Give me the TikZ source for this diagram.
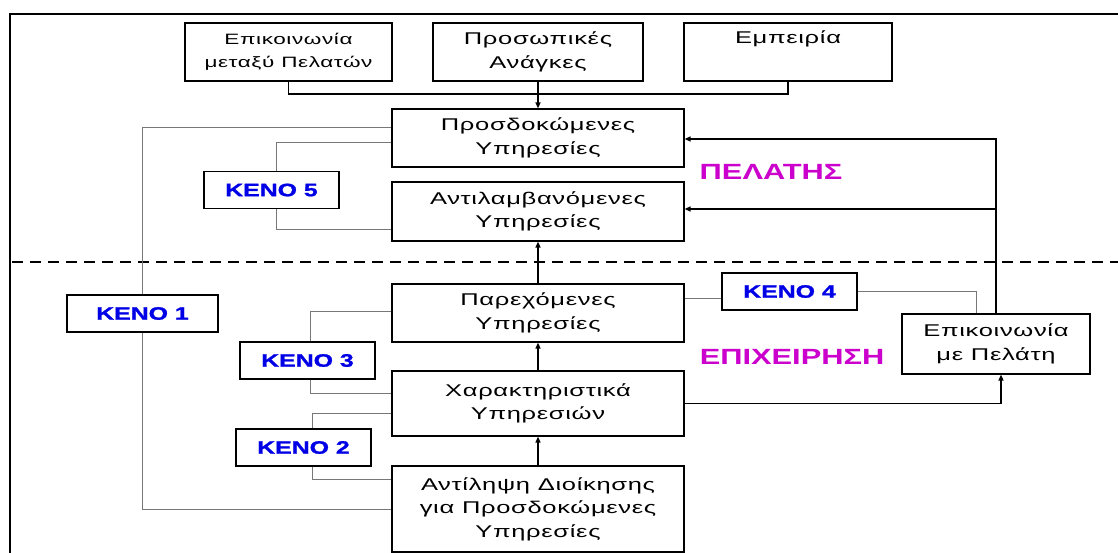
\documentclass[tikz,border=0pt]{standalone}
\usepackage{fontspec}
\setmainfont{Liberation Sans}[FakeStretch=1.5,LetterSpace=4]
\newfontfamily\headfont{Liberation Sans}[FakeStretch=1.4]
\newfontfamily\kfont{Liberation Sans}[FakeStretch=1.38,BoldFeatures={FakeBold=1.2}]
\usetikzlibrary{arrows.meta,calc}
\definecolor{kblue}{RGB}{0,0,230}
\definecolor{headmag}{RGB}{204,0,204}
\definecolor{linegray}{RGB}{120,120,120}
\begin{document}
\begin{tikzpicture}[x=1pt,y=-1pt,
  box/.style={draw=black,line width=1.2pt,minimum height=58pt,align=center,inner sep=0pt,font=\fontsize{17}{23.5}\selectfont},
  kbox/.style={draw=black,line width=1.2pt,minimum width=135pt,minimum height=37pt,inner sep=0pt,text=kblue,font=\kfont\fontsize{18}{20}\selectfont\bfseries},
  head/.style={text=headmag,font=\headfont\fontsize{22}{24}\selectfont\bfseries},
  gline/.style={draw=linegray,line width=1pt},
  bline/.style={draw=black,line width=1.3pt},
  arr/.style={bline,-{Triangle[length=6pt,width=5pt]}},
]
\useasboundingbox (0,0) rectangle (1118,553);
\fill[white] (0,0) rectangle (1118,553);
% frame and divider
\draw[line width=2.5pt] (10,560) -- (10,14) -- (1125,14);
\draw[line width=1.5pt,dash pattern=on 11pt off 7pt] (12,262) -- (1118,262);
% boxes
\node[box,minimum width=207pt,font=\fontsize{15}{23}\selectfont] (A) at (288.5,52) {Επικοινωνία\\μεταξύ Πελατών};
\node[box,minimum width=210pt] (B) at (538,52) {Προσωπικές\\Ανάγκες};
\node[box,minimum width=208pt] (C) at (788,52) {Εμπειρία\\\strut};
\node[box,minimum width=292pt] (PY) at (538,138) {Προσδοκώμενες\\Υπηρεσίες};
\node[box,minimum width=292pt,minimum height=59pt] (AY) at (538,211.5) {Αντιλαμβανόμενες\\Υπηρεσίες};
\node[box,minimum width=292pt] (PaY) at (538,313) {Παρεχόμενες\\Υπηρεσίες};
\node[box,minimum width=292pt,minimum height=65pt] (XY) at (538,403.5) {Χαρακτηριστικά\\Υπηρεσιών};
\node[box,minimum width=292pt,minimum height=86pt] (AD) at (538,509) {Αντίληψη Διοίκησης\\για Προσδοκώμενες\\Υπηρεσίες};
\node[box,minimum width=188pt,minimum height=60pt] (EP) at (996,344) {Επικοινωνία\\με Πελάτη};
% gap boxes
\node[kbox] (K5) at (271.5,190) {ΚΕΝΟ 5};
\node[kbox,minimum width=151pt] (K1) at (142.5,313.5) {ΚΕΝΟ 1};
\node[kbox] (K3) at (307.5,360.5) {ΚΕΝΟ 3};
\node[kbox] (K2) at (303.5,447.5) {ΚΕΝΟ 2};
\node[kbox] (K4) at (789.5,291.5) {ΚΕΝΟ 4};
% headings
\node[head] (pel) at (771,172) {ΠΕΛΑΤΗΣ};
\node[head] (epi) at (792,357) {ΕΠΙΧΕΙΡΗΣΗ};
% black connectors
\coordinate (jt) at (538,94);
\draw[bline] (A.south) |- (jt) -| (C.south);
\draw[arr] (B.south) -- (PY.north);
\draw[arr] (EP.north) |- ($(PY.east)+(0,1)$);
\draw[arr] ($(EP.north |- AY.east)+(0,-2.5)$) -- ($(AY.east)+(0,-2.5)$);
\draw[arr] (XY.east) -| ($(EP.south)+(5,0)$);
\draw[arr] (PaY.north) -- (AY.south);
\draw[arr] (XY.north) -- (PaY.south);
\draw[arr] (AD.north) -- (XY.south);
% grey gap connectors
\draw[gline] ($(PY.west)+(0,-10)$) -| (K1.north);
\draw[gline] (K1.south) |- (AD.west);
\draw[gline] ($(PY.west)+(0,5)$) -| ($(K5.north)+(4.5,0)$);
\draw[gline] ($(K5.south)+(4.5,0)$) |- ($(AY.west)+(0,18.5)$);
\draw[gline] ($(PaY.west)+(0,-2)$) -| ($(K3.north)+(2.5,0)$);
\draw[gline] ($(K3.south)+(2.5,0)$) |- ($(XY.west)+(0,-10.5)$);
\draw[gline] ($(XY.west)+(0,9.5)$) -| ($(K2.north)+(8.5,0)$);
\draw[gline] ($(K2.south)+(8.5,0)$) |- ($(AD.west)+(0,-30)$);
\draw[gline] ($(PaY.east)+(0,-15)$) -- ($(K4.west)+(0,6.5)$);
\draw[gline] (K4.east) -| ($(EP.north)+(-20,0)$);
\end{tikzpicture}
\end{document}
